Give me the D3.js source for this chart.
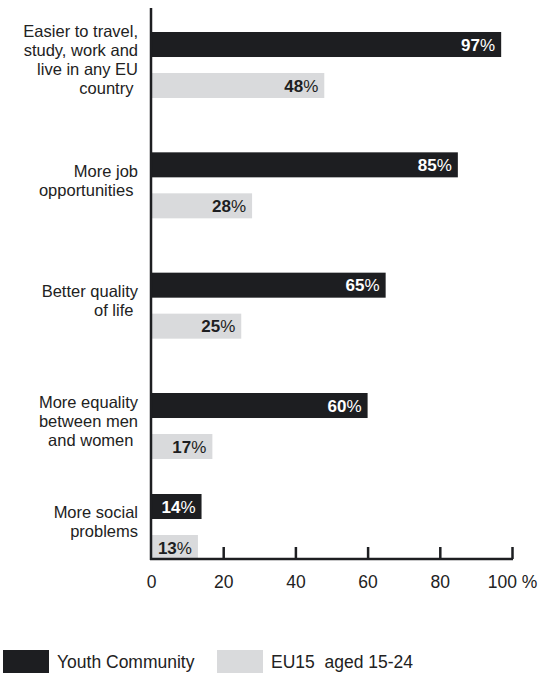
<!DOCTYPE html>
<html>
<head>
<meta charset="utf-8">
<script src="https://cdn.jsdelivr.net/npm/d3@7"></script>
<style>
  html, body { margin: 0; padding: 0; background: #fff; }
  svg { display: block; font-family: "Liberation Sans", Arial, sans-serif; }
</style>
</head>
<body>
<svg id="chart" width="539" height="676"></svg>
<script>
// Reasons given, each line of the wrapped label kept as written
const categories = [
  ["Easier to travel,", "study, work and", "live in any EU", "country "],
  ["More job", "opportunities "],
  ["Better quality", "of life "],
  ["More equality", "between men", "and women "],
  ["More social", "problems"]
];
const seriesNames = ["Youth Community", "EU15  aged 15-24"];
const youthValues = [97, 85, 65, 60, 14];
const eu15Values = [48, 28, 25, 17, 13];
const tickValues = [0, 20, 40, 60, 80, 100];
const tickLabels = ["0", "20", "40", "60", "80", "100 %"];

const colors = ["#1d1e21", "#d9dadc"];
const textColors = ["#ffffff", "#1d1e21"];

const svg = d3.select("#chart");

const x = d3.scaleLinear().domain([0, 100]).range([151, 512]);

// group tops: evenly spaced, with the last group drawn a little tighter above the axis
const yGroup = d3.scaleLinear().domain([0, 3, 4]).range([32, 393, 494]);
const yInner = d3.scaleBand().domain([0, 1]).range([0, 66]).paddingInner(0.39);

const axisY = 559;

const rows = categories.map((lines, i) => ({
  lines, i, values: [youthValues[i], eu15Values[i]]
}));

// bars
const groups = svg.selectAll("g.grp").data(rows).join("g")
  .attr("class", "grp")
  .attr("transform", d => `translate(0,${yGroup(d.i)})`);

groups.selectAll("rect").data(d => d.values.map((v, s) => ({ v, s }))).join("rect")
  .attr("x", x(0))
  .attr("y", d => yInner(d.s))
  .attr("width", d => x(d.v) - x(0))
  .attr("height", yInner.bandwidth())
  .attr("fill", d => colors[d.s]);

// value labels inside the bars
const vl = groups.selectAll("text.val").data(d => d.values.map((v, s) => ({ v, s }))).join("text")
  .attr("class", "val")
  .attr("x", d => x(d.v) - 6)
  .attr("y", d => yInner(d.s) + yInner.bandwidth() / 2)
  .attr("dy", "0.36em")
  .attr("text-anchor", "end")
  .attr("fill", d => textColors[d.s])
  .style("font-size", "17px");
vl.append("tspan").style("font-weight", "bold").text(d => d.v);
vl.append("tspan").style("font-weight", "normal").text("%");

// category labels, right-aligned left of the axis
const lineH = 19;
groups.each(function(d) {
  const g = d3.select(this);
  const center = 33 - 5;
  const n = d.lines.length;
  const t = g.append("text")
    .attr("text-anchor", "end")
    .attr("fill", "#222")
    .style("font-size", "16.5px")
    .style("white-space", "pre");
  d.lines.forEach((ln, k) => {
    t.append("tspan")
      .attr("x", 138)
      .attr("y", center + (k - (n - 1) / 2) * lineH)
      .attr("dy", "0.35em")
      .text(ln);
  });
});

// vertical axis line
svg.append("line")
  .attr("x1", x(0)).attr("x2", x(0))
  .attr("y1", 8).attr("y2", axisY + 1)
  .attr("stroke", "#1d1e21").attr("stroke-width", 2.5);

// horizontal axis with upward ticks
const xAxis = d3.axisBottom(x)
  .tickValues(tickValues)
  .tickSize(-12)
  .tickPadding(17)
  .tickFormat((d, i) => tickLabels[i]);

const ax = svg.append("g")
  .attr("transform", `translate(0,${axisY})`)
  .call(xAxis);
ax.select(".domain").attr("stroke", "#1d1e21").attr("stroke-width", 2.5)
  .attr("d", `M${x(0) - 1},0H${x(100) + 1}`);
ax.selectAll(".tick line").attr("stroke", "#1d1e21").attr("stroke-width", 2.5);
ax.selectAll(".tick").filter(d => d === 0).select("line").remove();
ax.selectAll(".tick text")
  .attr("fill", "#222")
  .style("font-size", "17.5px")
  .style("font-family", "'Liberation Sans', Arial, sans-serif");

// legend
const legend = svg.append("g");
const legendX = d3.scalePoint().domain(seriesNames).range([3, 217]);
const li = legend.selectAll("g").data(seriesNames).join("g")
  .attr("transform", d => `translate(${legendX(d)},650)`);
li.append("rect")
  .attr("width", 46).attr("height", 23)
  .attr("fill", (d, i) => colors[i]);
li.append("text")
  .attr("x", 54).attr("y", 12).attr("dy", "0.35em")
  .attr("fill", "#222")
  .style("font-size", "17.5px")
  .style("white-space", "pre")
  .text(d => d);
</script>
</body>
</html>
